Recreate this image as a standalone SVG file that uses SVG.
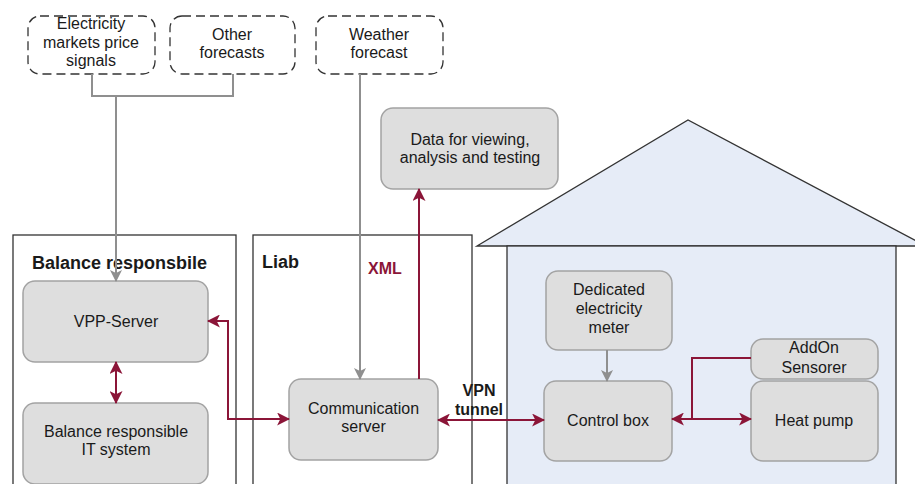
<svg xmlns="http://www.w3.org/2000/svg" width="915" height="484" viewBox="0 0 915 484">
  <style>
    text { font-family: "Liberation Sans", Arial, sans-serif; fill: #1a1a1a; }
    .lbl { font-size: 16px; text-anchor: middle; }
    .head { font-size: 18px; font-weight: bold; }
    .tag { font-size: 16px; font-weight: bold; }
    .node { fill: #dedede; stroke: #a3a3a3; stroke-width: 1.5; }
    .ext { fill: #ffffff; stroke: #333333; stroke-width: 1.3; stroke-dasharray: 9 5; }
    .frame { fill: #ffffff; stroke: #333333; stroke-width: 1.3; }
    .house { fill: #e6ecf7; stroke: #333333; stroke-width: 1.3; }
    .grey { fill: none; stroke: #8f8f8f; stroke-width: 2; }
    .red { fill: none; stroke: #8b1538; stroke-width: 2; }
  </style>
  <defs>
    <marker id="arrGrey" viewBox="0 0 12 12" refX="11" refY="6" markerWidth="12" markerHeight="12" markerUnits="userSpaceOnUse" orient="auto-start-reverse">
      <path d="M0,0 L12,6 L0,12 L3,6 z" fill="#8f8f8f"/>
    </marker>
    <marker id="arrRed" viewBox="0 0 12 12" refX="11" refY="6" markerWidth="13" markerHeight="13" markerUnits="userSpaceOnUse" orient="auto-start-reverse">
      <path d="M0,0 L12,6 L0,12 L3,6 z" fill="#8b1538"/>
    </marker>
  </defs>

  <!-- containers -->
  <g id="balance-frame">
    <rect class="frame" x="13" y="235" width="223" height="260"/>
    <text class="head" x="32" y="269">Balance responsbile</text>
  </g>
  <g id="liab-frame">
    <rect class="frame" x="253" y="235" width="219" height="260"/>
    <text class="head" x="262" y="268">Liab</text>
  </g>
  <g id="house">
    <polygon class="house" points="477,246 688,120 926,246"/>
    <rect class="house" x="507" y="246" width="389" height="250"/>
  </g>

  <!-- external inputs -->
  <g id="price-signals">
    <rect class="ext" x="28" y="16" width="127" height="58" rx="12"/>
    <text class="lbl" x="91" y="29">Electricity</text>
    <text class="lbl" x="91" y="48">markets price</text>
    <text class="lbl" x="91" y="66">signals</text>
  </g>
  <g id="other-forecasts">
    <rect class="ext" x="170" y="16" width="125" height="58" rx="12"/>
    <text class="lbl" x="232" y="40">Other</text>
    <text class="lbl" x="232" y="58">forecasts</text>
  </g>
  <g id="weather-forecast">
    <rect class="ext" x="316" y="16" width="127" height="58" rx="12"/>
    <text class="lbl" x="379" y="40">Weather</text>
    <text class="lbl" x="379" y="58">forecast</text>
  </g>

  <g id="data-store">
    <rect class="node" x="381" y="108" width="177" height="81" rx="12"/>
    <text class="lbl" x="470" y="145">Data for viewing,</text>
    <text class="lbl" x="470" y="163">analysis and testing</text>
  </g>

  <g id="vpp-server">
    <rect class="node" x="23" y="281" width="185" height="81" rx="12"/>
    <text class="lbl" x="116" y="327">VPP-Server</text>
  </g>
  <g id="balance-it">
    <rect class="node" x="23" y="403" width="185" height="81" rx="12"/>
    <text class="lbl" x="116" y="437">Balance responsible</text>
    <text class="lbl" x="116" y="455">IT system</text>
  </g>
  <g id="comm-server">
    <rect class="node" x="289" y="379" width="149" height="81" rx="12"/>
    <text class="lbl" x="363.5" y="414">Communication</text>
    <text class="lbl" x="363.5" y="432">server</text>
  </g>

  <g id="meter">
    <rect class="node" x="546" y="271" width="126" height="79" rx="12"/>
    <text class="lbl" x="609" y="295">Dedicated</text>
    <text class="lbl" x="609" y="314">electricity</text>
    <text class="lbl" x="609" y="333">meter</text>
  </g>
  <g id="control-box">
    <rect class="node" x="544" y="381" width="128" height="80" rx="12"/>
    <text class="lbl" x="608" y="426">Control box</text>
  </g>
  <g id="addon-sensors">
    <rect class="node" x="751" y="339" width="127" height="40" rx="12"/>
    <text class="lbl" x="814" y="353">AddOn</text>
    <text class="lbl" x="814" y="373">Sensorer</text>
  </g>
  <g id="heat-pump">
    <rect class="node" x="751" y="381" width="127" height="80" rx="12"/>
    <text class="lbl" x="814" y="426">Heat pump</text>
  </g>

  <!-- connectors -->
  <g id="connectors">
    <path class="grey" d="M92,74 V96 H233 V74"/>
    <path class="grey" d="M116,96 V281" marker-end="url(#arrGrey)"/>
    <path class="grey" d="M360,74 V379" marker-end="url(#arrGrey)"/>
    <path class="grey" d="M607,350 V381" marker-end="url(#arrGrey)"/>

    <path class="red" d="M116,362 V403" marker-start="url(#arrRed)" marker-end="url(#arrRed)"/>
    <path class="red" d="M208,321 H228 V419 H289" marker-start="url(#arrRed)" marker-end="url(#arrRed)"/>
    <path class="red" d="M419,379 V189" marker-end="url(#arrRed)"/>
    <path class="red" d="M438,420 H544" marker-start="url(#arrRed)" marker-end="url(#arrRed)"/>
    <path class="red" d="M672,419 H751" marker-start="url(#arrRed)" marker-end="url(#arrRed)"/>
    <path class="red" d="M751,358 H692 V419"/>

    <text class="tag" x="368" y="274" style="fill:#8b1538">XML</text>
    <text class="tag" x="479" y="396" text-anchor="middle">VPN</text>
    <text class="tag" x="479" y="415" text-anchor="middle">tunnel</text>
  </g>
</svg>
